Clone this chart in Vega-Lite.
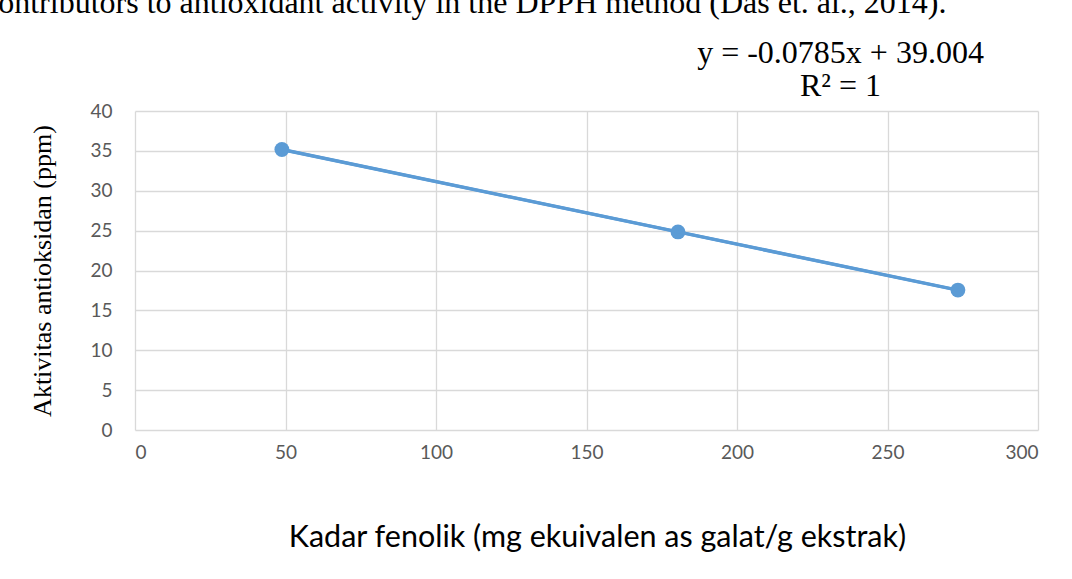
{
  "$schema": "https://vega.github.io/schema/vega-lite/v6.json",
  "width": 903,
  "height": 319,
  "autosize": {"type": "none"},
  "padding": {"left": 135, "top": 111, "right": 34, "bottom": 149},
  "background": "white",
  "title": {
    "text": "contributors to antioxidant activity in the DPPH method (Das et. al., 2014).",
    "anchor": "start",
    "frame": "group",
    "font": "Liberation Serif",
    "fontSize": 32,
    "fontWeight": "normal",
    "color": "black",
    "baseline": "alphabetic",
    "dx": -151,
    "offset": -9
  },
  "config": {
    "view": {"stroke": null},
    "axis": {
      "grid": true,
      "gridColor": "#d9d9d9",
      "gridWidth": 1.3,
      "domain": false,
      "ticks": false,
      "tickSize": 0,
      "labelFont": "Lato",
      "labelFontSize": 19,
      "labelColor": "#595959",
      "labelOverlap": false
    }
  },
  "data": {
    "values": [
      {"kadar": 48.8, "aktivitas": 35.17},
      {"kadar": 180.4, "aktivitas": 24.84},
      {"kadar": 273.4, "aktivitas": 17.54}
    ]
  },
  "resolve": {"axis": {"x": "independent"}},
  "layer": [
    {
      "mark": {"type": "line", "color": "#5B9BD5", "strokeWidth": 3.5, "point": {"filled": true, "size": 220, "color": "#5B9BD5", "opacity": 1}},
      "encoding": {
        "x": {
          "field": "kadar", "type": "quantitative",
          "scale": {"domain": [0, 300], "nice": false, "zero": false},
          "axis": {
            "values": [0, 50, 100, 150, 200, 250, 300],
            "labelPadding": 13,
            "title": "Kadar fenolik (mg ekuivalen as galat/g ekstrak)",
            "titleFont": "Lato",
            "titleFontSize": 30.5,
            "titleFontWeight": "normal",
            "titleColor": "black",
            "titleBaseline": "middle",
            "titleX": 462,
            "titleY": 107
          }
        },
        "y": {
          "field": "aktivitas", "type": "quantitative",
          "scale": {"domain": [0, 40], "nice": false},
          "axis": {
            "values": [0, 5, 10, 15, 20, 25, 30, 35, 40],
            "labelPadding": 23,
            "title": "Aktivitas antioksidan (ppm)",
            "titleFont": "Liberation Serif",
            "titleFontSize": 26,
            "titleFontWeight": "normal",
            "titleColor": "black",
            "titlePadding": 34
          }
        }
      }
    },
    {
      "transform": [{"regression": "aktivitas", "on": "kadar", "method": "linear"}],
      "mark": {"type": "line", "color": "#5B9BD5", "strokeWidth": 3},
      "encoding": {
        "x": {
          "field": "kadar", "type": "quantitative",
          "axis": {
            "orient": "top",
            "grid": false,
            "labels": false,
            "title": ["y = -0.0785x + 39.004", "R² = 1"],
            "titleFont": "Liberation Serif",
            "titleFontSize": 32,
            "titleFontWeight": "normal",
            "titleColor": "black",
            "titleAlign": "center",
            "titleBaseline": "alphabetic",
            "titleLineHeight": 33,
            "titleX": 705,
            "titleY": -49,
            "titleAngle": 0
          }
        },
        "y": {
          "field": "aktivitas", "type": "quantitative",
          "axis": {
            "values": [0, 5, 10, 15, 20, 25, 30, 35, 40],
            "labelPadding": 23,
            "title": "Aktivitas antioksidan (ppm)",
            "titleFont": "Liberation Serif",
            "titleFontSize": 26,
            "titleFontWeight": "normal",
            "titleColor": "black",
            "titlePadding": 34
          }
        }
      }
    }
  ]
}
